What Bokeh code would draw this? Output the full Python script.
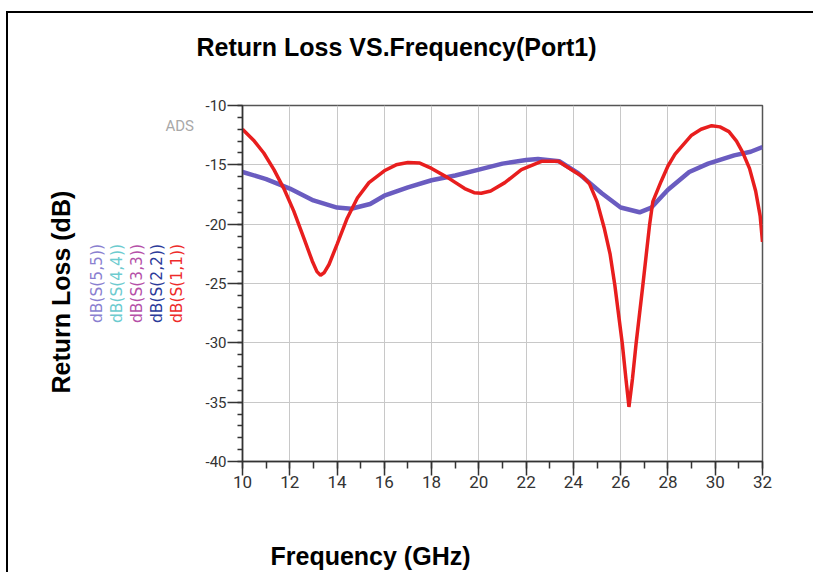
from bokeh.plotting import figure
from bokeh.models import Range1d, SingleIntervalTicker, Label, Title
from bokeh.embed import file_html
from bokeh.resources import INLINE

# ---- data ----
freq_s11 = [10.0, 10.5, 10.9, 11.33, 11.75, 12.17, 12.6, 12.95, 13.15, 13.3, 13.45, 13.66, 14.0,
            14.43, 14.86, 15.35, 16.0, 16.5, 17.0, 17.5, 18.0, 18.7, 19.4, 19.8, 20.1, 20.5,
            21.1, 21.8, 22.65, 23.36, 24.07, 24.4, 24.68, 25.0, 25.3, 25.55, 25.75, 26.07,
            26.22, 26.35, 26.5, 26.65, 26.94, 27.22, 27.36, 27.71, 28.0, 28.3, 29.0, 29.4,
            29.85, 30.2, 30.58, 30.9, 31.15, 31.45, 31.71, 31.9, 32.0]
s11_db = [-12.0, -13.0, -14.0, -15.4, -17.0, -18.9, -21.2, -23.1, -24.0, -24.3, -24.1, -23.4, -21.7,
          -19.5, -17.8, -16.5, -15.5, -15.0, -14.8, -14.85, -15.3, -16.1, -17.0, -17.35, -17.4, -17.2,
          -16.5, -15.4, -14.7, -14.7, -15.6, -16.0, -16.6, -18.1, -20.3, -22.5, -25.1, -30.1,
          -33.0, -35.4, -33.0, -30.1, -25.1, -20.1, -18.1, -16.4, -15.1, -14.1, -12.5, -12.0,
          -11.7, -11.8, -12.2, -13.0, -13.9, -15.3, -17.2, -19.3, -21.5]

freq_s55 = [10.0, 11.0, 12.0, 13.0, 14.0, 14.6, 15.4, 16.0, 17.0, 18.0, 19.0, 20.0, 21.0,
            22.0, 22.5, 23.4, 24.2, 25.2, 26.0, 26.8, 27.3, 28.0, 28.9, 29.7, 30.8, 31.5, 32.0]
s55_db = [-15.6, -16.2, -17.0, -18.0, -18.6, -18.7, -18.3, -17.6, -16.9, -16.3, -15.9, -15.4, -14.9,
          -14.6, -14.5, -14.7, -15.7, -17.4, -18.6, -19.0, -18.6, -17.1, -15.6, -14.9, -14.2, -13.9, -13.5]

legend_names = ["dB(S(5,5))", "dB(S(4,4))", "dB(S(3,3))", "dB(S(2,2))", "dB(S(1,1))"]
legend_colors = ["#8a7fd0", "#6ccbcf", "#b550a8", "#2b3a9a", "#ee2a2a"]

y_ticks = [-40, -35, -30, -25, -20, -15, -10]
y_tick_labels = ["-40", "-35", "-30", "-25", "-20", "-15", "-10"]

title_text = "Return Loss VS.Frequency(Port1)"
xlabel_text = "Frequency (GHz)"
ylabel_text = "Return Loss (dB)"

# ---- geometry (page pixels) ----
OX, OY = 8, 13           # canvas origin on page (after css margin + border)
W, H = 807, 561
F_L, F_R, F_T, F_B = 242, 762, 105, 461
X0, X1, Y0, Y1 = 10, 32, -40, -10

p = figure(width=W, height=H, output_backend="svg", toolbar_location=None,
           x_range=Range1d(X0, X1), y_range=Range1d(Y0, Y1),
           min_border_left=F_L - OX, min_border_right=OX + W - F_R,
           min_border_top=F_T - OY, min_border_bottom=OY + H - F_B,
           background_fill_color="white", border_fill_color="white",
           styles={"border-top": "2px solid #000", "border-left": "2px solid #000",
                   "margin-top": "11px", "margin-left": "6px"})

p.outline_line_color = "#555555"
p.outline_line_width = 1.5

p.xaxis.ticker = SingleIntervalTicker(interval=2, num_minor_ticks=2)
p.yaxis.ticker = SingleIntervalTicker(interval=5, num_minor_ticks=5)
p.yaxis.major_label_overrides = dict(zip(y_ticks, y_tick_labels))
for ax in (p.xaxis[0], p.yaxis[0]):
    ax.axis_line_color = "#333333"
    ax.axis_line_width = 1.5
    ax.major_tick_line_color = "#333333"
    ax.major_tick_line_width = 1.5
    ax.minor_tick_line_color = "#333333"
    ax.minor_tick_line_width = 1.5
    ax.major_tick_in = 0
    ax.minor_tick_in = 0
    ax.major_label_text_font = "Roboto"
    ax.major_label_text_color = "#333333"
p.xaxis.major_tick_out = 14
p.xaxis.minor_tick_out = 7
p.xaxis.major_label_standoff = 0
p.xaxis.major_label_text_font_size = "17px"
p.yaxis.major_tick_out = 15
p.yaxis.minor_tick_out = 5
p.yaxis.major_label_standoff = 1
p.yaxis.major_label_text_font_size = "15px"

p.xgrid.grid_line_color = "#c8c8c8"
p.ygrid.grid_line_color = "#c8c8c8"
p.xgrid.ticker = p.xaxis.ticker
p.ygrid.ticker = p.yaxis.ticker

p.line(freq_s55, s55_db, line_color="#6a5cc0", line_width=4.5)
p.line(freq_s11, s11_db, line_color="#e81e1e", line_width=3.5)

bold = dict(text_font="Liberation Sans", text_font_style="bold", text_font_size="25px",
            text_color="#000000")

def spacer(size, side):
    p.add_layout(Title(text=" ", text_font_size="1px", standoff=max(size - 3, 0)), side)

# above: spacer next to frame, then the title
spacer(44.5, "above")
p.add_layout(Title(text=title_text, align="left", offset=-46, standoff=0, **bold), "above")

# below: axis, spacer, then x label
spacer(48.5, "below")
p.add_layout(Title(text=xlabel_text, align="left", offset=28, standoff=0, **bold), "below")

# left: axis, spacer, legend column (closest to the axis first), y label
spacer(17, "left")
for name, col in reversed(list(zip(legend_names, legend_colors))):
    p.add_layout(Title(text=name, align="center", standoff=0, text_font="DejaVu Sans",
                       text_font_style="normal", text_font_size="15.5px", text_color=col), "left")
p.add_layout(Title(text=ylabel_text, align="left", offset=68, standoff=21, **bold), "left")

# "ADS" tag as a label living in the (empty) right panel, positioned back to the left
p.add_layout(Label(x=193.5 - F_R, y=F_B - 125, x_units="screen", y_units="screen", text="ADS",
                   text_font="Roboto", text_font_size="15px", text_align="right",
                   text_baseline="alphabetic", text_color="#a8a8a8"), "right")

open("out.html", "w").write(file_html(p, INLINE))
